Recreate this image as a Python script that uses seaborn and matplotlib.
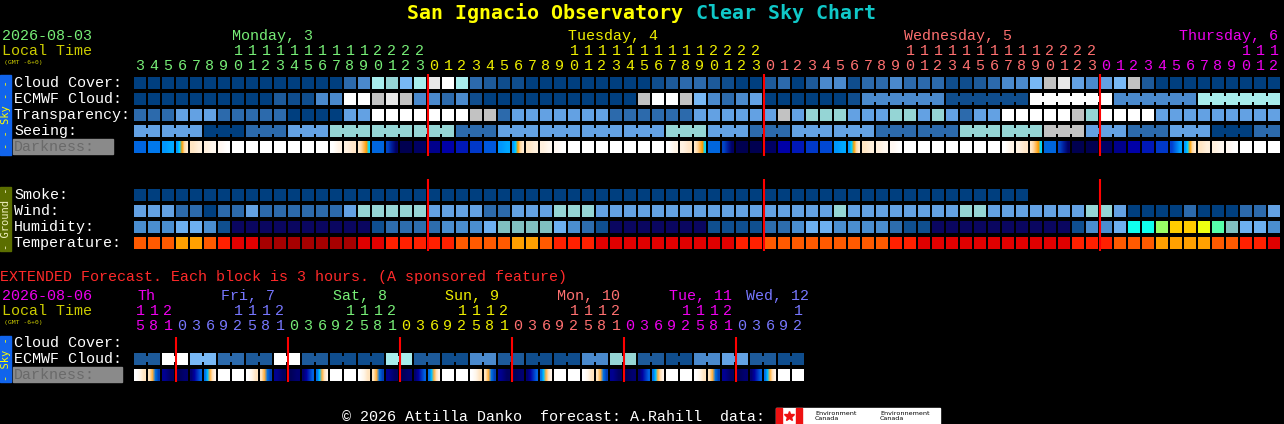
import numpy as np
import pandas as pd
import matplotlib
matplotlib.use('Agg')
import matplotlib.pyplot as plt
from matplotlib.colors import to_rgb
from matplotlib.patches import Rectangle
import seaborn as sns

# ---------------- values ----------------
title_site = 'San Ignacio Observatory'
title_chart = 'Clear Sky Chart'
start_date = '2026-08-03'
ext_start_date = '2026-08-06'
tz_note = '(GMT -6+0)'
ext_note = 'EXTENDED Forecast. Each block is 3 hours. (A sponsored feature)'
footer = '\u00a9 2026 Attilla Danko  forecast: A.Rahill  data:'

# hourly part: one block per hour
main_days = ['Monday, 3', 'Tuesday, 4', 'Wednesday, 5', 'Thursday, 6']
main_first_hour = [3, 0, 0, 0]
main_last_hour = [23, 23, 23, 12]
main_label_hour = [10, 10, 10, None]          # None -> label flush right
main_day_colors = ['#77EE77', '#EEEE00', '#FF7070', '#EE00EE']

sky_labels = ['Cloud Cover:', 'ECMWF Cloud:', 'Transparency:', 'Seeing:']
ground_labels = ['Smoke:', 'Wind:', 'Humidity:', 'Temperature:']

# levels index into sky_colors (dark blue = clear ... white = overcast)
cloud_cover = [0, 0, 0, 0, 0, 0, 0, 0, 0, 0, 0, 0, 0, 0, 0, 3, 4, 8, 7, 6, 8,
               10, 11, 8, 3, 2, 1, 1, 0, 0, 0, 0, 0, 0, 0, 0, 0, 1, 2, 3, 3, 2, 1, 0, 0,
               2, 3, 0, 2, 4, 4, 1, 3, 3, 4, 3, 3, 3, 1, 1, 2, 3, 4, 4, 6, 9, 10, 5, 4,
               5, 6, 9, 2, 0, 0, 0, 0, 0, 0, 0, 0, 0]
ecmwf_cloud = [0, 0, 0, 0, 0, 0, 0, 0, 0, 0, 2, 1, 1, 4, 4, 11, 11, 9, 10, 9, 4,
               4, 3, 4, 1, 0, 0, 0, 0, 0, 0, 0, 0, 0, 0, 0, 9, 11, 11, 9, 6, 4, 3, 4, 5,
               0, 0, 0, 0, 0, 0, 1, 4, 4, 4, 4, 4, 4, 1, 1, 1, 1, 1, 1, 11, 11, 11, 11, 11,
               11, 4, 4, 4, 4, 4, 4, 8, 8, 8, 8, 8, 8]
ecmwf_runs = [1] * 52 + [6, 6, 6, 6, 6]
transparency = [3, 3, 3, 5, 5, 5, 3, 3, 3, 3, 3, 0, 0, 0, 0, 5, 5, 11, 11, 11, 11,
                11, 11, 11, 9, 9, 3, 5, 5, 5, 5, 5, 5, 5, 3, 3, 3, 3, 3, 3, 5, 5, 5, 5, 5,
                5, 9, 5, 7, 7, 7, 5, 5, 5, 7, 7, 5, 7, 5, 3, 5, 5, 11, 11, 11, 11, 11, 9, 7,
                11, 11, 11, 11, 5, 5, 5, 5, 5, 5, 5, 5, 5]
seeing = [5, 5, 5, 5, 5, 0, 0, 0, 3, 3, 3, 5, 5, 5, 7, 7, 7, 7, 7, 7, 7,
          7, 7, 3, 3, 3, 5, 5, 5, 5, 5, 5, 5, 5, 5, 5, 5, 5, 7, 7, 7, 5, 5, 5, 3,
          3, 3, 5, 5, 5, 5, 5, 5, 3, 3, 3, 3, 3, 3, 7, 7, 7, 7, 7, 7, 9, 9, 9, 5,
          5, 5, 3, 3, 3, 5, 5, 5, 0, 0, 0, 3, 3]
seeing_runs = [2] + [3] * 26 + [2]
darkness = ['b2', 'b3', 'b4', 'rise', 'c1', 'c2', 'c3', 'w', 'w', 'w', 'w', 'w', 'w', 'w',
            'e1', 'e2', 'set', 'k1', 'k2', 'n0', 'n1',
            'n2', 'n3', 'n4', 'n5', 'b1', 'b4', 'rise', 'c1', 'c2', 'c3', 'w', 'w', 'w', 'w',
            'w', 'w', 'w', 'e1', 'e2', 'set', 'k1', 'k2', 'n0', 'n0',
            'n1', 'n3', 'n4', 'n5', 'n6', 'b4', 'rise', 'c1', 'c2', 'c3', 'w', 'w', 'w', 'w',
            'w', 'w', 'w', 'e1', 'e2', 'set', 'k1', 'k2', 'n0', 'n0',
            'n1', 'n2', 'n3', 'n4', 'n5', 'b5', 'rise', 'c1', 'c2', 'c3', 'w', 'w', 'w']

smoke = [0] * 64 + [None] * 18
wind = [5, 5, 5, 3, 3, 0, 3, 3, 5, 3, 3, 3, 3, 3, 3, 5, 7, 7, 7, 7, 7,
        5, 5, 5, 5, 3, 3, 5, 5, 5, 7, 7, 7, 5, 5, 5, 5, 5, 5, 5, 5, 5, 5, 5, 5,
        5, 5, 5, 5, 5, 7, 5, 5, 5, 5, 5, 5, 5, 5, 7, 7, 5, 5, 5, 5, 5, 5, 5, 7,
        7, 5, 0, 0, 0, 0, 3, 0, 0, 0, 3, 3, 5]
humidity = [3, 3, 3, 4, 4, 3, 1, 0, 0, 0, 0, 0, 0, 0, 0, 0, 0, 1, 2, 2, 2,
            2, 3, 3, 3, 4, 5, 5, 5, 5, 4, 3, 2, 1, 0, 0, 0, 0, 0, 0, 0, 1, 1, 1, 1,
            2, 2, 3, 4, 4, 3, 3, 3, 3, 2, 1, 1, 0, 0, 0, 0, 0, 0, 0, 0, 0, 0, 1, 3,
            3, 4, 6, 6, 7, 8, 8, 9, 10, 5, 4, 4, 3]
temperature = [1, 1, 1, 0, 0, 1, 2, 3, 3, 4, 4, 4, 4, 4, 4, 4, 3, 3, 2, 2, 2,
               2, 2, 1, 1, 1, 1, 0, 0, 1, 2, 2, 2, 3, 3, 3, 3, 3, 3, 3, 3, 3, 3, 2, 2,
               1, 1, 1, 1, 1, 1, 1, 1, 1, 2, 2, 3, 3, 3, 3, 3, 3, 3, 3, 3, 3, 3, 2, 2,
               2, 1, 1, 1, 0, 0, 0, 0, 1, 1, 2, 2, 3]

# extended part: one block per 3 hours
ext_days = ['Th', 'Fri, 7', 'Sat, 8', 'Sun, 9', 'Mon, 10', 'Tue, 11', 'Wed, 12']
ext_hours = [[15, 18, 21]] + [[0, 3, 6, 9, 12, 15, 18, 21]] * 5 + [[0, 3, 6, 9, 12]]
ext_label_hour = [15, 9, 9, 9, 9, 9, None]
ext_day_colors = ['#EE00EE', '#7777FF', '#77EE77', '#EEEE00', '#FF7070', '#EE00EE', '#7777FF']
ext_ecmwf = [2, 2, 11,
             11, 6, 6, 3, 3, 2, 2, 11,
             11, 2, 2, 1, 1, 1, 1, 8,
             8, 2, 2, 1, 1, 4, 4, 2,
             2, 1, 1, 1, 1, 4, 4, 7,
             7, 2, 2, 1, 1, 4, 4, 5,
             5, 2, 2, 1, 1]
ext_runs = [2] * 24
ext_darkness = ['xe', 'xs', 'xk',
                'xn', 'xd', 'xr', 'w', 'w', 'xe', 'xs', 'xk',
                'xn', 'xd', 'xr', 'w', 'w', 'xe', 'xs', 'xk',
                'xn', 'xd', 'xr', 'w', 'w', 'xe', 'xs', 'xk',
                'xn', 'xd', 'xr', 'w', 'w', 'xe', 'xs', 'xk',
                'xn', 'xd', 'xr', 'w', 'w', 'xe', 'xs', 'xk',
                'xn', 'xd', 'xr', 'w', 'w']

# ---------------- colour scales ----------------
sky_colors = {0: '#003F7F', 1: '#0F4D8D', 2: '#1D5A9A', 3: '#2C6AAC', 4: '#4A89CC',
              5: '#63A1E3', 6: '#78B8F5', 7: '#95D5D5', 8: '#A8EDED', 9: '#C2C2C2',
              10: '#E8E8E8', 11: '#FFFFFF'}
hum_colors = {0: '#0A0660', 1: '#0F4F8F', 2: '#2D6DAD', 3: '#4A8ED0', 4: '#6DB0F0',
              5: '#80C0C0', 6: '#10FFEE', 7: '#99FF66', 8: '#FFCC00', 9: '#EEFF11',
              10: '#55FFAA'}
temp_colors = {0: '#FFA000', 1: '#FF5A00', 2: '#FF2000', 3: '#E00000', 4: '#A60000'}
dark_stops = {
    'n0': ['#000050'], 'n1': ['#000064'], 'n2': ['#00008C'], 'n3': ['#0000A8'],
    'n4': ['#0018B8'], 'n5': ['#0038C8'], 'n6': ['#0048D4'], 'b1': ['#0058DC'],
    'b2': ['#0066E0'], 'b3': ['#0078EC'], 'b4': ['#0096FC', '#00A8FF'],
    'b5': ['#0040D0', '#0070E8', '#00A0FF'],
    'rise': ['#0099FF', '#00D0FF', '#FFA000', '#FFD8A0', '#FFEBD0'],
    'c1': ['#FFE6C4', '#FFF0DC'], 'c2': ['#FFF0DE', '#FFF8F0'], 'c3': ['#FFF8F2', '#FFFFFF'],
    'w': ['#FFFFFF'], 'e1': ['#FFFFFF', '#FFF4E6'], 'e2': ['#FFF2E2', '#FFE6C8'],
    'set': ['#FFE8C8', '#FFD49C', '#FFB850', '#FF9C00', '#00D8FF'],
    'k1': ['#0066DD'], 'k2': ['#0044C4', '#001C98', '#000064'],
    'xn': ['#000058', '#000070'], 'xd': ['#000070', '#0000A0', '#0030C0', '#0060E0'],
    'xr': ['#0070E8', '#00C0FF', '#FFB040', '#FFE0B8', '#FFF4EA'],
    'xe': ['#FFFFFF', '#FFF6EA', '#FFE4C0'],
    'xs': ['#FFE4BC', '#FFB040', '#0070E0', '#0040B8'],
    'xk': ['#000090', '#000060'],
}

# ---------------- layout ----------------
X0, PITCH, BLOCK = 134, 14, 12
FS = 10.8
SQ = (BLOCK * 0.72) ** 2
BRIDGE = (6 * 0.72) ** 2
SKY_TOPS = [77, 93, 109, 125, 141]
GROUND_TOPS = [189, 205, 221, 237]
EXT_TOPS = [337, 353, 369]

sns.set_style('dark', {'axes.facecolor': 'black', 'figure.facecolor': 'black'})
plt.rcParams['font.family'] = ['Liberation Mono', 'DejaVu Sans Mono']

fig = plt.figure(figsize=(12.84, 4.24), dpi=100, facecolor='black')
ax = fig.add_axes([0, 0, 1, 1])
ax.set_facecolor('black')


def col_left(i):
    return X0 + PITCH * i


def txt(x, y, s, color, size=FS, **kw):
    ax.text(x, y, s, color=color, fontsize=size, va='baseline', **kw)


def draw_row(values, palette, top, runs=None):
    idx = [i for i, v in enumerate(values) if v is not None]
    df = pd.DataFrame({'x': [col_left(i) + BLOCK / 2 for i in idx],
                       'y': [top + BLOCK / 2] * len(idx),
                       'level': [values[i] for i in idx]})
    sns.scatterplot(data=df, x='x', y='y', hue='level', palette=palette, marker='s',
                    s=SQ, linewidth=0, legend=False, ax=ax, zorder=3)
    if runs:
        # join blocks that belong to the same forecast period
        bx, bv, start = [], [], 0
        for n in runs:
            for i in range(start, start + n - 1):
                bx.append(col_left(i) + BLOCK + 1)
                bv.append(values[i])
            start += n
        if bx:
            bdf = pd.DataFrame({'x': bx, 'y': [top + BLOCK / 2] * len(bx), 'level': bv})
            sns.scatterplot(data=bdf, x='x', y='y', hue='level', palette=palette, marker='s',
                            s=BRIDGE, linewidth=0, legend=False, ax=ax, zorder=3)


def draw_dark(keys, top):
    for i, key in enumerate(keys):
        rgb = np.array([[to_rgb(c) for c in dark_stops[key]]])
        left = col_left(i)
        ax.imshow(rgb, extent=(left, left + BLOCK, top + BLOCK, top),
                  interpolation='bilinear', aspect='auto', zorder=2)


def side_bar(y0, y1, color, label, tcolor):
    ax.add_patch(Rectangle((0, y0), 11, y1 - y0, color=color, zorder=2))
    ax.text(6, (y0 + y1) / 2, label, color=tcolor, fontsize=7.5, rotation=90,
            family='DejaVu Sans Mono', ha='center', va='center', zorder=3)


def dark_label(y, width):
    ax.add_patch(Rectangle((13, y - 12), width, 15, color='#8A8A8A', zorder=2))
    txt(14, y, 'Darkness:', '#6A6A6A', zorder=3)


def hour_header(hours, day_of_col, colors, tens_y, units_y):
    for i, h in enumerate(hours):
        c = colors[day_of_col[i]]
        cx = col_left(i) + BLOCK / 2
        if h >= 10:
            txt(cx, tens_y, str(h // 10), c, ha='center')
        txt(cx, units_y, str(h % 10), c, ha='center')


def day_names(names, hours, day_of_col, label_hour, colors, y, offset, right_edge):
    for d, name in enumerate(names):
        if label_hour[d] is None:
            txt(right_edge, y, name, colors[d], ha='right')
            continue
        i = [k for k in range(len(hours)) if day_of_col[k] == d and hours[k] == label_hour[d]][0]
        txt(col_left(i) + offset, y, name, colors[d])


# ---------------- title ----------------
cw = 14.4 / 72 * 100 * 0.602
full = title_site + ' ' + title_chart
tx = 642 - len(full) * cw / 2
txt(tx, 19, title_site, '#FFFF00', size=14.4, weight='bold', family='DejaVu Sans Mono')
txt(tx + (len(title_site) + 1) * cw, 19, title_chart, '#10C8C8', size=14.4, weight='bold',
    family='DejaVu Sans Mono')

# ---------------- hourly section ----------------
hours, day_of_col = [], []
for d in range(len(main_days)):
    for h in range(main_first_hour[d], main_last_hour[d] + 1):
        hours.append(h)
        day_of_col.append(d)

txt(2, 40, start_date, main_day_colors[0])
txt(2, 55, 'Local Time', '#CCCC00')
txt(4, 64, tz_note, '#CCCC00', size=4.6, family='DejaVu Sans Mono')
day_names(main_days, hours, day_of_col, main_label_hour, main_day_colors, 40, 0, 1278)
hour_header(hours, day_of_col, main_day_colors, 55, 70)

for label, top in zip(sky_labels, SKY_TOPS):
    txt(14, top + 10, label, 'white')
dark_label(SKY_TOPS[4] + 10, 100)
for label, top in zip(ground_labels, GROUND_TOPS):
    txt(14, top + 10, label, 'white')

draw_row(cloud_cover, sky_colors, SKY_TOPS[0])
draw_row(ecmwf_cloud, sky_colors, SKY_TOPS[1], ecmwf_runs)
draw_row(transparency, sky_colors, SKY_TOPS[2])
draw_row(seeing, sky_colors, SKY_TOPS[3], seeing_runs)
draw_dark(darkness, SKY_TOPS[4])
draw_row(smoke, sky_colors, GROUND_TOPS[0])
draw_row(wind, sky_colors, GROUND_TOPS[1])
draw_row(humidity, hum_colors, GROUND_TOPS[2])
draw_row(temperature, temp_colors, GROUND_TOPS[3])

midnights = [col_left(i) - 0.5 for i, h in enumerate(hours) if h == 0]
ax.vlines(midnights, 74, 156, color='red', lw=1.5, zorder=5)
ax.vlines(midnights, 179, 251, color='red', lw=1.5, zorder=5)

side_bar(75, 155, '#1164EC', '- - Sky - -', '#FFFF00')
side_bar(187, 251, '#5B6E00', '- Ground -', '#F0F0C0')

# ---------------- extended section ----------------
txt(0, 281, ext_note, '#FF2A2A')
e_hours, e_day = [], []
for d, hs in enumerate(ext_hours):
    for h in hs:
        e_hours.append(h)
        e_day.append(d)

txt(2, 300, ext_start_date, ext_day_colors[0])
txt(2, 315, 'Local Time', '#CCCC00')
txt(4, 324, tz_note, '#CCCC00', size=4.6, family='DejaVu Sans Mono')
day_names(ext_days, e_hours, e_day, ext_label_hour, ext_day_colors, 300, 3, 809)
hour_header(e_hours, e_day, ext_day_colors, 315, 330)

txt(14, EXT_TOPS[0] + 10, 'Cloud Cover:', 'white')
txt(14, EXT_TOPS[1] + 10, 'ECMWF Cloud:', 'white')
dark_label(EXT_TOPS[2] + 10, 109)

draw_row(ext_ecmwf, sky_colors, EXT_TOPS[1], ext_runs)
draw_dark(ext_darkness, EXT_TOPS[2])

e_midnights = [col_left(i) - 0.5 for i, h in enumerate(e_hours) if h == 0]
ax.vlines(e_midnights, 337, 382, color='red', lw=1.5, zorder=5)
side_bar(336, 382, '#1164EC', '- Sky -', '#FFFF00')

# ---------------- footer ----------------
txt(342, 421, footer, 'white')
ax.add_patch(Rectangle((776, 408), 164, 16, color='white', zorder=2))
ax.add_patch(Rectangle((776, 408), 6, 16, color='#EE1111', zorder=3))
ax.add_patch(Rectangle((796, 408), 6, 16, color='#EE1111', zorder=3))
ax.plot([789], [416], marker='*', color='#EE1111', markersize=7, zorder=3)
ax.text(815, 416, 'Environment\nCanada', color='black', fontsize=4.6,
        family='DejaVu Sans', va='center', linespacing=1.0, zorder=4)
ax.text(880, 416, 'Environnement\nCanada', color='black', fontsize=4.6,
        family='DejaVu Sans', va='center', linespacing=1.0, zorder=4)

ax.set_xlim(0, 1284)
ax.set_ylim(424, 0)
ax.axis('off')
fig.savefig('out.png', dpi=100, facecolor='black')
